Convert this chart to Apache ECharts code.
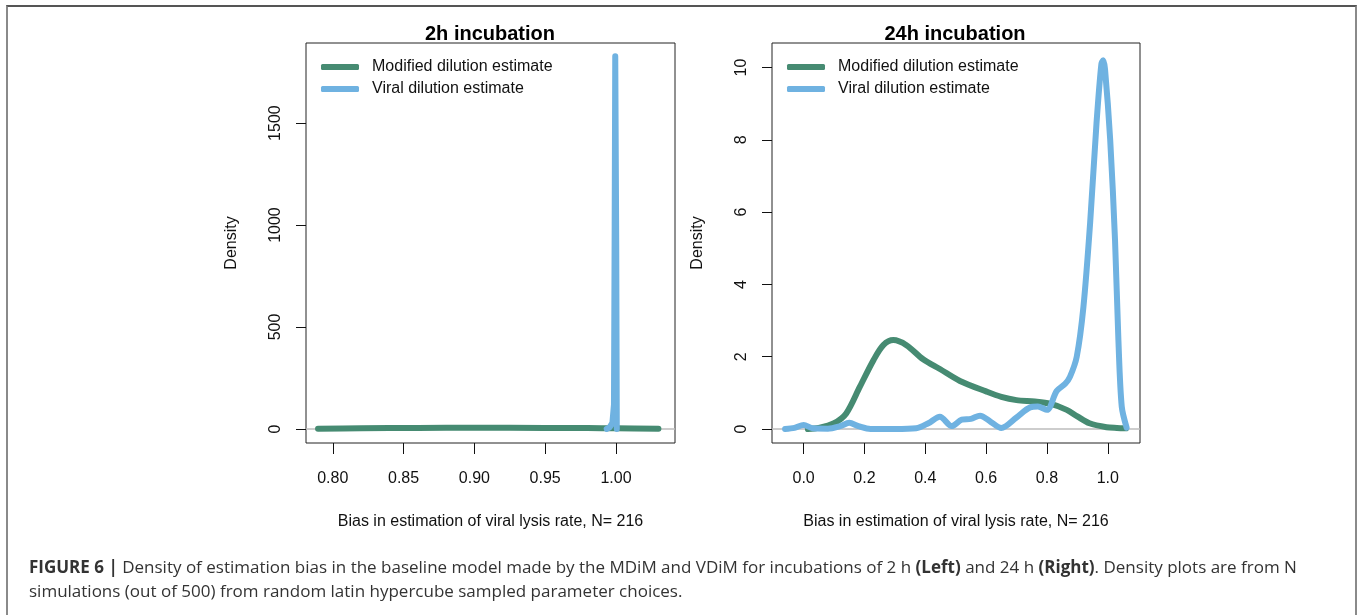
<!DOCTYPE html>
<html>
<head>
<meta charset="utf-8">
<script src="https://cdn.jsdelivr.net/npm/echarts@6/dist/echarts.min.js"></script>
<style>
  html, body { margin: 0; padding: 0; background: #fff; }
  #frame {
    position: absolute; left: 6px; top: 5px; width: 1347px; height: 640px;
    border-top: 2px solid #555; border-left: 2px solid #8a8a8a; border-right: 2px solid #8a8a8a;
  }
  #chart { position: absolute; left: 0; top: 0; width: 1358px; height: 615px; }
</style>
</head>
<body>
<div id="frame"></div>
<div id="chart"></div>
<script>
// density curves, [bias, density]
const mdim2h = [[0.7896, 1], [0.82, 3], [0.86, 5], [0.90, 6], [0.95, 5], [0.98, 4], [1.0, 3], [1.030, 1]]
const vdim2h = [[0.9935, 0], [0.9955, 8], [0.9975, 30], [0.9986, 120], [0.9991, 1000], [0.9995, 1828],
  [0.9998, 1828], [1.0002, 900], [1.0006, 0]]

const mdim24h = [[0.014, 0], [0.05, 0.03], [0.1, 0.16], [0.14, 0.43], [0.185, 1.17], [0.23, 1.91],
  [0.262, 2.32], [0.295, 2.46], [0.338, 2.32], [0.393, 1.93], [0.448, 1.66], [0.514, 1.33],
  [0.6, 1.04], [0.65, 0.89], [0.70, 0.80], [0.76, 0.76], [0.81, 0.70], [0.865, 0.53],
  [0.90, 0.35], [0.94, 0.16], [0.996, 0.05], [1.03, 0.03], [1.06, 0.02]]
const vdim24h = [[-0.061, 0], [-0.03, 0.03], [0.0, 0.11], [0.03, 0.02], [0.08, 0.01], [0.12, 0.08],
  [0.15, 0.17], [0.18, 0.08], [0.22, 0.0], [0.30, 0.0], [0.37, 0.02], [0.41, 0.16], [0.448, 0.34],
  [0.487, 0.08], [0.52, 0.26], [0.55, 0.28], [0.58, 0.37], [0.615, 0.2], [0.65, 0.03], [0.70, 0.32],
  [0.745, 0.6], [0.77, 0.62], [0.80, 0.53], [0.832, 1.05], [0.86, 1.25], [0.876, 1.45], [0.898, 2.0],
  [0.92, 3.38], [0.942, 5.7], [0.963, 8.46], [0.979, 10.1], [0.985, 10.2], [0.991, 9.95],
  [1.008, 8.0], [1.024, 5.2], [1.035, 2.46], [1.046, 0.62], [1.062, 0.04]]

// tick values
const xTicks2h = [0.80, 0.85, 0.90, 0.95, 1.00]
const yTicks2h = [0, 500, 1000, 1500]
const xTicks24h = [0.0, 0.2, 0.4, 0.6, 0.8, 1.0]
const yTicks24h = [0, 2, 4, 6, 8, 10]

const seriesNames = ['Modified dilution estimate', 'Viral dilution estimate']
const panelTitles = ['2h incubation', '24h incubation']
const xTitle = 'Bias in estimation of viral lysis rate, N= 216'

const GREEN = '#468b72'
const BLUE = '#6fb2e1'
const FONT = "'Liberation Sans', Arial, sans-serif"
const CAPTION_FONT = "'Open Sans', sans-serif"

const chart = echarts.init(document.getElementById('chart'))

function xAxis(idx, min, max, ticks, digits) {
  return {
    type: 'value', gridIndex: idx, min, max,
    name: xTitle, nameLocation: 'middle', nameGap: 71,
    nameTextStyle: { color: '#111', fontSize: 16, fontFamily: FONT },
    axisLine: { show: false, onZero: false },
    axisTick: { show: true, inside: false, length: 11, customValues: ticks, lineStyle: { color: '#111', width: 1 } },
    axisLabel: { customValues: ticks, margin: 28, color: '#111', fontSize: 16, fontFamily: FONT,
      formatter: (v) => Number(v).toFixed(digits) },
    splitLine: { show: false }
  }
}

function yAxis(idx, min, max, ticks) {
  return {
    type: 'value', gridIndex: idx, min, max,
    name: 'Density', nameLocation: 'middle', nameGap: 66,
    nameTextStyle: { color: '#111', fontSize: 16, fontFamily: FONT },
    axisLine: { show: false, onZero: false },
    axisTick: { show: true, inside: false, length: 10, customValues: ticks, lineStyle: { color: '#111', width: 1 } },
    axisLabel: { customValues: ticks, rotate: 90, margin: 22, color: '#111', fontSize: 16, fontFamily: FONT,
      formatter: (v) => String(v) },
    splitLine: { show: false }
  }
}

function curve(name, data, color, idx, smooth, zero) {
  const s = {
    name, type: 'line', data, xAxisIndex: idx, yAxisIndex: idx,
    symbol: 'none', showSymbol: false, smooth, z: 3, animation: false,
    lineStyle: { color, width: 6, cap: 'round', join: 'round' },
    itemStyle: { color }
  }
  if (zero) {
    s.markLine = {
      silent: true, symbol: 'none', z: 1, animation: false,
      label: { show: false },
      lineStyle: { color: '#bdbdbd', width: 1.5, type: 'solid' },
      data: [{ yAxis: 0 }]
    }
  }
  return s
}

function legend(left) {
  return {
    orient: 'vertical', left, top: 54, itemWidth: 38, itemHeight: 6, itemGap: 6,
    icon: 'roundRect',
    data: seriesNames, selectedMode: false,
    textStyle: { color: '#111', fontSize: 16, fontFamily: FONT, padding: [0, 0, 0, 8] }
  }
}

chart.setOption({
  animation: false,
  title: [
    { text: panelTitles[0], left: 485, top: 19, textAlign: 'center',
      textStyle: { fontSize: 20, fontWeight: 'bold', color: '#000', fontFamily: FONT } },
    { text: panelTitles[1], left: 950, top: 19, textAlign: 'center',
      textStyle: { fontSize: 20, fontWeight: 'bold', color: '#000', fontFamily: FONT } },
    {
      text: '{b|FIGURE 6 |} Density of estimation bias in the baseline model made by the MDiM and VDiM for incubations of 2 h {b|(Left)} and 24 h {b|(Right)}. Density plots are from N\nsimulations (out of 500) from random latin hypercube sampled parameter choices.',
      left: 24, top: 551,
      textStyle: {
        fontSize: 17, fontWeight: 'normal', color: '#333', fontFamily: CAPTION_FONT, lineHeight: 24,
        rich: { b: { fontSize: 17, fontWeight: 'bold', color: '#333', fontFamily: CAPTION_FONT, lineHeight: 24 } }
      }
    }
  ],
  legend: [legend(316), legend(782)],
  grid: [
    { left: 306, top: 43, width: 369, height: 400, show: true, borderColor: '#222', borderWidth: 1, backgroundColor: 'transparent' },
    { left: 772, top: 43, width: 368, height: 400, show: true, borderColor: '#222', borderWidth: 1, backgroundColor: 'transparent' }
  ],
  xAxis: [xAxis(0, 0.7811, 1.0417, xTicks2h, 2), xAxis(1, -0.104, 1.106, xTicks24h, 1)],
  yAxis: [yAxis(0, -69, 1893, yTicks2h), yAxis(1, -0.387, 10.68, yTicks24h)],
  series: [
    curve(seriesNames[0], mdim2h, GREEN, 0, 0.3, true),
    curve(seriesNames[1], vdim2h, BLUE, 0, false, false),
    curve(seriesNames[0], mdim24h, GREEN, 1, 0.3, true),
    curve(seriesNames[1], vdim24h, BLUE, 1, 0.3, false)
  ]
})
</script>
</body>
</html>
